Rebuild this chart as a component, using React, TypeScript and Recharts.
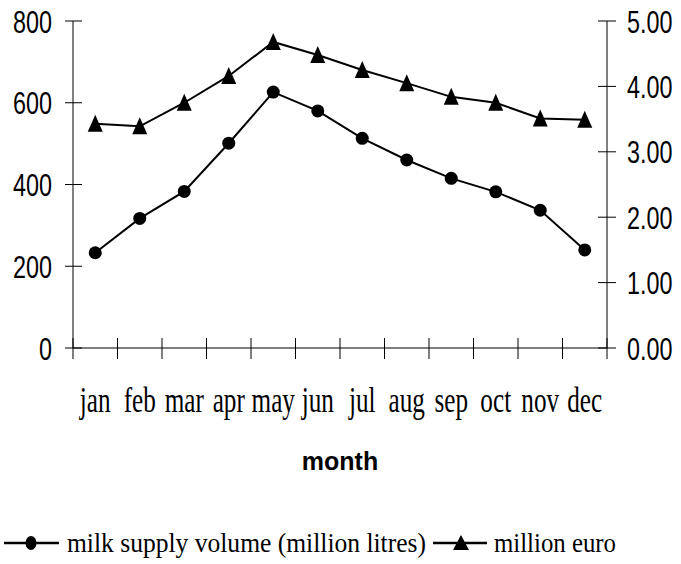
import React from 'react';
import { LineChart, Line, XAxis, YAxis, Legend, Label } from 'recharts';

const months = ['jan', 'feb', 'mar', 'apr', 'may', 'jun', 'jul', 'aug', 'sep', 'oct', 'nov', 'dec'];
const monthPositions = [0.5, 1.5, 2.5, 3.5, 4.5, 5.5, 6.5, 7.5, 8.5, 9.5, 10.5, 11.5];
const monthBoundaries = [0, 1, 2, 3, 4, 5, 6, 7, 8, 9, 10, 11, 12];
const milkVolume = [233, 317, 383, 501, 626, 580, 513, 460, 415, 382, 337, 240];
const millionEuro = [3.43, 3.39, 3.75, 4.16, 4.68, 4.48, 4.25, 4.05, 3.84, 3.75, 3.51, 3.49];
const leftTicks = [0, 200, 400, 600, 800];
const rightTicks = [0, 1, 2, 3, 4, 5];

const data = months.map((m, i) => ({
  month: m,
  pos: monthPositions[i],
  milk: milkVolume[i],
  euro: millionEuro[i],
}));

const xTicks = [...monthBoundaries, ...monthPositions].sort((a, b) => a - b);

const SANS = "'Liberation Sans', Arial, sans-serif";
const SERIF = "'Liberation Serif', 'Times New Roman', serif";

const XTick = (props: any) => {
  const { x, y, payload } = props;
  const v = payload.value;
  if (Number.isInteger(v)) {
    return <line x1={x} x2={x} y1={y - 10} y2={y + 11} stroke="#000" strokeWidth={1} />;
  }
  const label = months[Math.floor(v)];
  return (
    <text
      x={0}
      y={0}
      transform={`translate(${x},${y + 64}) scale(0.72,1)`}
      textAnchor="middle"
      fontFamily={SERIF}
      fontSize={35}
      fill="#000"
    >
      {label}
    </text>
  );
};

const LeftTick = (props: any) => {
  const { x, y, payload } = props;
  return (
    <g>
      <line x1={x - 8} x2={x + 9} y1={y} y2={y} stroke="#000" strokeWidth={1} />
      <text
        x={0}
        y={0}
        transform={`translate(${x - 21},${y + 11.5}) scale(0.73,1)`}
        textAnchor="end"
        fontFamily={SANS}
        fontSize={32}
        fill="#000"
      >
        {payload.value}
      </text>
    </g>
  );
};

const RightTick = (props: any) => {
  const { x, y, payload } = props;
  return (
    <g>
      <line x1={x - 9} x2={x + 9} y1={y} y2={y} stroke="#000" strokeWidth={1} />
      <text
        x={0}
        y={0}
        transform={`translate(${x + 20},${y + 11.5}) scale(0.73,1)`}
        textAnchor="start"
        fontFamily={SANS}
        fontSize={32}
        fill="#000"
      >
        {Number(payload.value).toFixed(2)}
      </text>
    </g>
  );
};

const CircleDot = (props: any) => {
  const { cx, cy, index } = props;
  if (cx == null || cy == null) return null;
  return <circle key={`c${index}`} cx={cx} cy={cy} r={6.5} fill="#000" stroke="none" />;
};

const TriangleDot = (props: any) => {
  const { cx, cy, index } = props;
  if (cx == null || cy == null) return null;
  return (
    <polygon
      key={`t${index}`}
      points={`${cx},${cy - 9} ${cx - 7.5},${cy + 8} ${cx + 7.5},${cy + 8}`}
      fill="#000"
      stroke="none"
    />
  );
};

const MonthLabel = (props: any) => {
  const vb = props.viewBox || { x: 0, y: 0, width: 0 };
  return (
    <text
      x={vb.x + vb.width / 2}
      y={vb.y + 122}
      textAnchor="middle"
      fontFamily={SANS}
      fontWeight="bold"
      fontSize={25}
      fill="#000"
    >
      month
    </text>
  );
};

const legendLayout = [
  { lx1: 4, lx2: 59, mx: 31, tx: 67, tw: 359, shape: 'circle' },
  { lx1: 433, lx2: 487, mx: 461, tx: 494, tw: 122, shape: 'triangle' },
];

const LegendContent = (props: any) => {
  const payload = props.payload || [];
  const ly = 27;
  return (
    <svg width={681} height={48} style={{ display: 'block' }}>
      {payload.map((entry: any, i: number) => {
        const l = legendLayout[i] || legendLayout[0];
        return (
          <g key={i}>
            <line x1={l.lx1} x2={l.lx2} y1={ly} y2={ly} stroke="#000" strokeWidth={2.5} />
            {l.shape === 'circle' ? (
              <ellipse cx={l.mx} cy={ly} rx={5.5} ry={7} fill="#000" />
            ) : (
              <polygon
                points={`${l.mx},${ly - 8} ${l.mx - 8},${ly + 7} ${l.mx + 8},${ly + 7}`}
                fill="#000"
              />
            )}
            <text
              x={l.tx}
              y={36}
              textLength={l.tw}
              lengthAdjust="spacingAndGlyphs"
              fontFamily={SERIF}
              fontSize={27}
              fill="#000"
            >
              {entry.value}
            </text>
          </g>
        );
      })}
    </svg>
  );
};

export default function App() {
  return (
    <div style={{ position: 'absolute', left: 0, top: 0, background: '#fff' }}>
      <LineChart width={681} height={564} data={data} margin={{ top: 21, right: 0, bottom: 0, left: 0 }}>
        <XAxis
          type="number"
          dataKey="pos"
          domain={[0, 12]}
          ticks={xTicks}
          interval={0}
          height={168}
          tickSize={0}
          tickMargin={0}
          tickLine={false}
          axisLine={{ stroke: '#000', strokeWidth: 1 }}
          tick={<XTick />}
          allowDataOverflow
        >
          <Label content={<MonthLabel />} />
        </XAxis>
        <YAxis
          yAxisId="left"
          orientation="left"
          domain={[0, 800]}
          ticks={leftTicks}
          interval={0}
          width={73}
          tickSize={0}
          tickMargin={0}
          tickLine={false}
          axisLine={{ stroke: '#000', strokeWidth: 1 }}
          tick={<LeftTick />}
          allowDataOverflow
        />
        <YAxis
          yAxisId="right"
          orientation="right"
          domain={[0, 5]}
          ticks={rightTicks}
          interval={0}
          width={74}
          tickSize={0}
          tickMargin={0}
          tickLine={false}
          axisLine={{ stroke: '#000', strokeWidth: 1 }}
          tick={<RightTick />}
          allowDataOverflow
        />
        <Legend
          verticalAlign="bottom"
          align="left"
          wrapperStyle={{ left: 0, bottom: 0, width: 681, height: 48 }}
          content={<LegendContent />}
        />
        <Line
          yAxisId="left"
          type="linear"
          dataKey="milk"
          name="milk supply volume (million litres)"
          stroke="#000"
          strokeWidth={2}
          dot={<CircleDot />}
          activeDot={false}
          isAnimationActive={false}
        />
        <Line
          yAxisId="right"
          type="linear"
          dataKey="euro"
          name="million euro"
          stroke="#000"
          strokeWidth={2}
          dot={<TriangleDot />}
          activeDot={false}
          isAnimationActive={false}
        />
      </LineChart>
    </div>
  );
}
